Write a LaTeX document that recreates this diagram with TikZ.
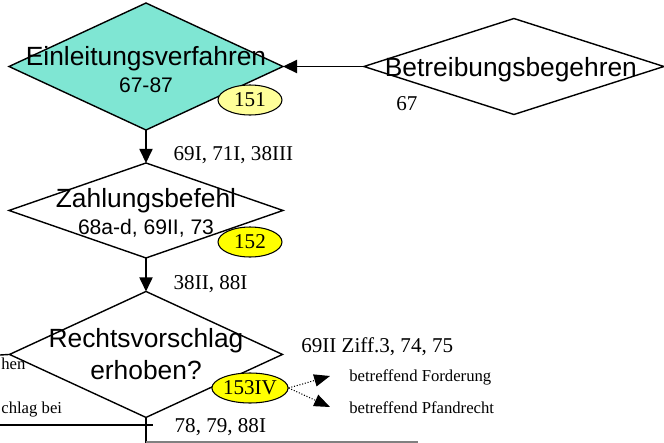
\documentclass[tikz,border=0pt]{standalone}
\usepackage{fontspec}
\setmainfont{Liberation Serif}
\setsansfont{Liberation Sans}
\usepackage{tikz}
\usetikzlibrary{shapes.geometric, arrows.meta}
\definecolor{tuerkis}{RGB}{127,230,211}
\definecolor{hellgelb}{RGB}{255,255,153}
\definecolor{gelb}{RGB}{255,255,0}
\tikzstyle{raute} = [diamond, draw=black, thick, inner sep=0pt, outer sep=0pt]
\tikzstyle{titel} = [font=\sffamily\fontsize{15}{18}\selectfont, inner sep=0pt, anchor=base]
\tikzstyle{nummer} = [font=\sffamily\fontsize{12}{14}\selectfont, inner sep=0pt, anchor=base]
\tikzstyle{marke} = [ellipse, draw=black, semithick, minimum width=1.28cm, minimum height=0.6cm, inner sep=0pt, font=\fontsize{12}{14}\selectfont]
\tikzstyle{art} = [font=\fontsize{12}{14}\selectfont, inner sep=0pt]
\tikzstyle{klein} = [font=\fontsize{9.5}{11}\selectfont, inner sep=0pt]
\tikzstyle{arrow} = [thick,-{Triangle[length=8pt,width=7.5pt]}]
\tikzstyle{dotarrow} = [densely dotted, semithick,-{Triangle[length=9pt,width=7pt]}]
\tikzstyle{linie} = [thick]
\tikzstyle{grau} = [semithick, draw=gray]

\begin{document}
\begin{tikzpicture}[x=0.02cm, y=-0.02cm, node distance=2.88cm]
		\useasboundingbox (0,0) rectangle (664,443);
		\node (ein) [raute, fill=tuerkis, minimum width=5.48cm, minimum height=2.54cm] at (146,66.5) {};
		\node (zahl) [raute, below of=ein, minimum width=5.48cm, minimum height=1.9cm] {};
		\node (recht) [raute, below of=zahl, minimum width=5.46cm, minimum height=2.52cm] {};
		\node (betr) [raute, right of=ein, xshift=4.48cm, minimum width=6cm, minimum height=1.92cm] {};
		% Texte in den Rauten
		\node (eintxt) [titel] at ([yshift=0.03cm]ein.center) {Einleitungsverfahren};
		\node (einnr) [nummer] at ([yshift=-0.53cm]ein.center) {67-87};
		\node (zahltxt) [titel] at ([yshift=0.05cm]zahl.center) {Zahlungsbefehl};
		\node (zahlnr) [nummer] at ([yshift=-0.49cm]zahl.center) {68a-d, 69II, 73};
		\node (rechttxt) [titel] at ([yshift=0.14cm]recht.center) {Rechtsvorschlag};
		\node (rechtfr) [titel] at ([yshift=-0.5cm]recht.center) {erhoben?};
		\node (betrtxt) [titel] at ([xshift=-0.06cm, yshift=-0.2cm]betr.center) {Betreibungsbegehren};
		\node (betrnr) [art] at (407,104) {67};
		% Pfeile
		\draw [arrow] (betr.west) -- (ein.east);
		\draw [arrow] (ein.south) -- node[art, anchor=west, xshift=0.54cm, yshift=-0.17cm] {69I, 71I, 38III} (zahl.north);
		\draw [arrow] (zahl.south) -- node[art, anchor=west, xshift=0.54cm, yshift=-0.18cm] {38II, 88I} (recht.north);
		% Marken
		\node (m151) [marke, fill=hellgelb] at (250,100) {151};
		\node (m152) [marke, fill=gelb] at (250,242) {152};
		\node (m153) [marke, fill=gelb] at (250,388) {153IV};
		\node (ziff) [art, anchor=west] at (301,347) {69II Ziff.3, 74, 75};
		\coordinate (ford) at (330,376);
		\coordinate (pfand) at (330,407);
		\draw [dotarrow] (m153.east) -- (ford);
		\draw [dotarrow] (m153.east) -- (pfand);
		\node (fordtxt) [klein, anchor=west] at (349,377) {betreffend Forderung};
		\node (pfandtxt) [klein, anchor=west] at (349,408) {betreffend Pfandrecht};
		% linker und unterer Rand
		\coordinate (links) at (0,355);
		\draw [linie] (recht.west) -- (links);
		\node (hen) [klein, anchor=base west] at (1,369) {hen};
		\node (bei) [klein, anchor=base west] at (1,413) {chlag bei};
		\coordinate (unten) at (146,443);
		\draw [linie] (recht.south) -- node[art, anchor=west, xshift=0.56cm, yshift=0.07cm] {78, 79, 88I} (unten);
		\coordinate (qa) at (0,425);
		\coordinate (qb) at (153,425);
		\draw [linie] (qa) -- (qb);
		\coordinate (ga) at (146,442);
		\coordinate (gb) at (418,442);
		\draw [grau] (ga) -- (gb);
		\end{tikzpicture}
\end{document}
